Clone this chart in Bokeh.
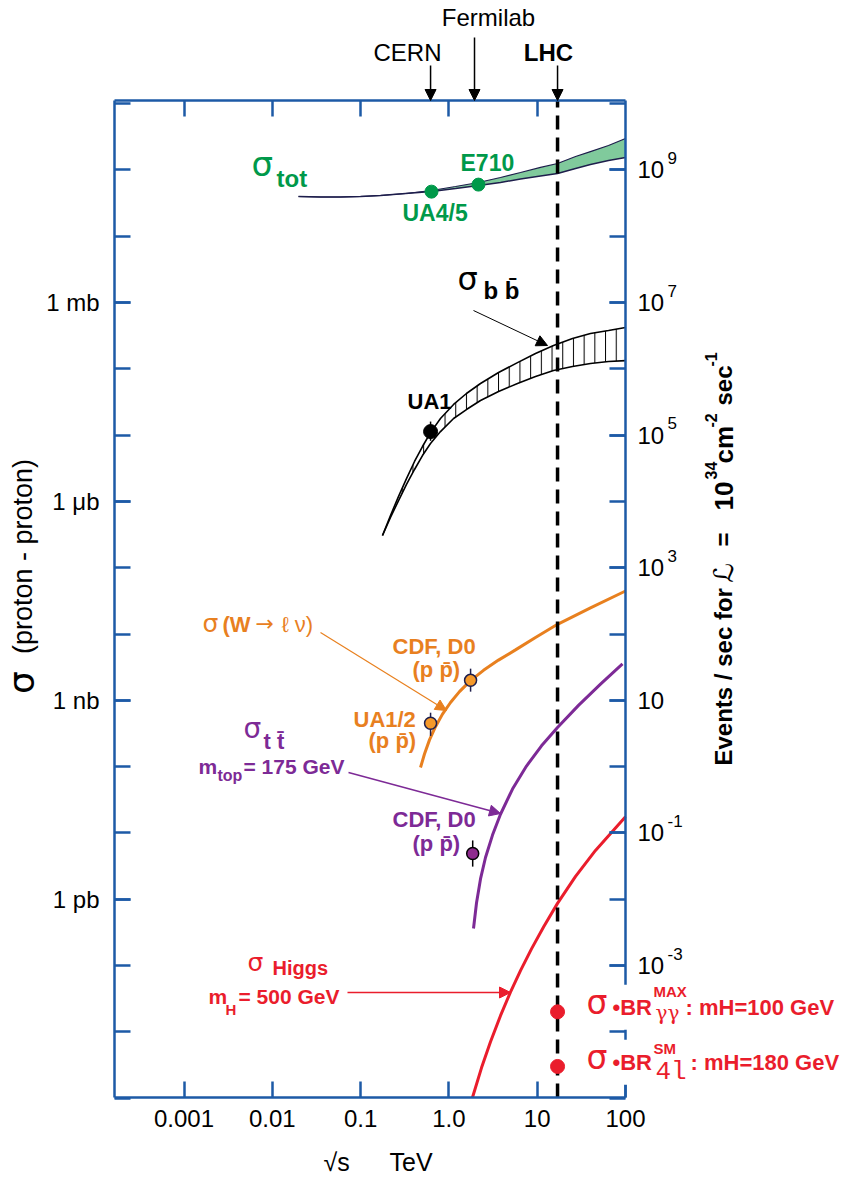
import math
from bokeh.plotting import figure
from bokeh.models import (Range1d, LogAxis, LogScale, FixedTicker, Label, Arrow,
                          NormalHead, CustomJSTickFormatter)
from bokeh.embed import file_html
from bokeh.resources import INLINE

# ---------------- data ----------------
# sqrt(s) in TeV, cross-sections in mb
energy_ticks = [0.001, 0.01, 0.1, 1.0, 10.0, 100.0]
energy_tick_labels = ["0.001", "0.01", "0.1", "1.0", "10", "100"]
xsec_ticks = [1.0, 1e-3, 1e-6, 1e-9]
xsec_tick_labels = ["1 mb", "1 μb", "1 nb", "1 pb"]
xsec_decades = [10.0 ** k for k in range(-12, 4)]
rate_label_exps = [9, 7, 5, 3, 1, -1, -3]
rate_decades = [10.0 ** k for k in range(-5, 11)]
rate_per_mb = 1e7  # events/s per mb for L = 1e34 cm^-2 s^-1

cern_e, fnal_e, lhc_e = 0.62, 1.95, 17.0

# total cross-section band
tot_e = [0.0198, 0.0352, 0.0592, 0.0997, 0.168, 0.323, 0.635, 1.19, 2.16, 3.84,
         6.47, 10.9, 17.0, 27.2, 40.1, 64.2, 100]
tot_lo = [39.7, 39.0, 39.0, 39.7, 41.1, 44.1, 47.2, 52.4, 58.2, 64.6,
          72.9, 80.9, 88.2, 105, 121, 139, 154]
tot_hi = [39.7, 39.0, 39.0, 39.7, 41.1, 44.1, 48.9, 56.2, 64.6, 76.8,
          91.4, 109, 125, 159, 189, 233, 298]
tot_pts_e = [0.635, 2.16]
tot_pts_s = [47, 60]

# b-bbar band
bb_e = [0.177, 0.218, 0.269, 0.331, 0.408, 0.502, 0.619, 0.803, 1.13, 1.58,
        2.28, 3.65, 5.98, 9.57, 15.3, 25.1, 40.1, 64.2, 100]
bb_hi = [3.06e-4, 6.13e-4, 1.19e-3, 2.21e-3, 4.00e-3, 6.73e-3, 1.09e-2, 1.78e-2,
         2.90e-2, 4.24e-2, 6.00e-2, 8.80e-2, 0.124, 0.170, 0.225, 0.286, 0.341,
         0.378, 0.420]
bb_lo = [3.06e-4, 5.72e-4, 1.03e-3, 1.80e-3, 3.03e-3, 4.92e-3, 7.47e-3, 1.13e-2,
         1.78e-2, 2.43e-2, 3.33e-2, 4.55e-2, 6.00e-2, 7.66e-2, 9.43e-2, 0.108,
         0.120, 0.129, 0.133]
ua1_e, ua1_s, ua1_lo, ua1_hi = [0.62], [0.0113], [0.0082], [0.016]

# W -> l nu
w_e = [0.477, 0.529, 0.603, 0.705, 0.846, 1.043, 1.318, 1.757, 2.465, 3.645,
       5.678, 9.565, 16.98, 40.14, 100]
w_s = [9.68e-8, 1.55e-7, 2.53e-7, 4.00e-7, 6.19e-7, 9.27e-7, 1.35e-6, 1.98e-6,
       2.83e-6, 4.04e-6, 5.76e-6, 8.85e-6, 1.40e-5, 2.48e-5, 4.45e-5]
w_pts_e = [0.62, 1.76]
w_pts_s = [4.5e-7, 2.0e-6]
w_pts_lo = [2.9e-7, 1.35e-6]
w_pts_hi = [6.5e-7, 3.0e-6]

# t-tbar
tt_e = [1.90, 2.054, 2.280, 2.597, 3.118, 3.84, 5.252, 7.564, 11.19, 16.98,
        29.36, 52.12, 92.47]
tt_s = [3.61e-10, 8.77e-10, 2.02e-9, 4.26e-9, 9.27e-9, 1.91e-8, 4.58e-8, 1.02e-7,
        2.06e-7, 3.90e-7, 8.38e-7, 1.75e-6, 3.54e-6]
tt_pts_e, tt_pts_s, tt_pts_lo, tt_pts_hi = [1.86], [4.9e-9], [3.1e-9], [7.7e-9]

# Higgs (mH = 500 GeV)
h_e = [1.849, 2.34, 2.96, 3.84, 4.98, 6.47, 8.62, 11.8, 16.98, 27.2, 45.73, 100]
h_s = [1.02e-12, 2.86e-12, 7.09e-12, 1.75e-11, 3.96e-11, 8.35e-11, 1.78e-10,
       3.82e-10, 8.65e-10, 2.21e-9, 5.45e-9, 1.75e-8]
br_pts_e = [lhc_e, lhc_e]
br_pts_s = [2.0e-11, 3.0e-12]

# ---------------- styling ----------------
BLUE = "#1d5aa6"
GREEN = "#00994a"
GREEN_FILL = "#80ca9c"
NAVY = "#1e1e4c"
ORANGE = "#e8801f"
ORANGE_DOT = "#f5992a"
PURPLE = "#7d2a96"
PURPLE_DOT = "#8e2b8e"
RED = "#ea1d2c"
FONT = "Liberation Sans"
SYM = "DejaVu Sans"

W, H = 842, 1181
FL, FR, FT, FB = 114, 625, 100, 1097          # box of the axes, in pixels
XDEC, YDEC, Y_MB_PX = 88.3, 66.3, 302.0


def xd(px):  # pixel column -> sqrt(s)
    return 10 ** (2 - (FR - px) / XDEC)


def yd(py):  # pixel row -> sigma (mb)
    return 10 ** ((Y_MB_PX - py) / YDEC)


X_LO, X_HI = xd(FL), xd(FR)
Y_LO, Y_HI = yd(FB), yd(FT)

p = figure(width=W, height=H, x_axis_type="log", y_axis_type="log",
           x_range=Range1d(xd(0), xd(W)), y_range=Range1d(yd(H), yd(0)),
           output_backend="svg", toolbar_location=None,
           min_border=0, min_border_left=0, min_border_right=0,
           min_border_top=0, min_border_bottom=0)
p.grid.visible = False
p.background_fill_color = "white"
p.border_fill_color = "white"
p.outline_line_color = None

p.extra_y_ranges = {"rate": Range1d(yd(H) * rate_per_mb, yd(0) * rate_per_mb)}
p.extra_y_scales = {"rate": LogScale()}

FMT_CODE = """
for (let i = 0; i < vals.length; i++) {
  if (Math.abs(Math.log10(tick) - Math.log10(vals[i])) < 1e-6) { return labs[i]; }
}
return "";
"""


def formatter(vals, labs):
    return CustomJSTickFormatter(args=dict(vals=list(vals), labs=list(labs)), code=FMT_CODE)


def style_axis(ax, standoff):
    ax.axis_line_color = BLUE
    ax.axis_line_width = 2.5
    ax.major_tick_line_color = BLUE
    ax.minor_tick_line_color = BLUE
    ax.major_tick_line_width = 2.5
    ax.minor_tick_line_width = 2.5
    ax.major_tick_in = 16
    ax.major_tick_out = 0
    ax.minor_tick_in = 16
    ax.minor_tick_out = 0
    ax.major_label_text_font = FONT
    ax.major_label_text_font_size = "24px"
    ax.major_label_text_color = "black"
    ax.major_label_standoff = standoff


bx = p.xaxis[0]
bx.ticker = FixedTicker(ticks=energy_ticks, minor_ticks=[])
bx.formatter = formatter(energy_ticks, energy_tick_labels)
bx.fixed_location = Y_LO
bx.bounds = (X_LO, X_HI)
style_axis(bx, 12)

ly = p.yaxis[0]
ly.ticker = FixedTicker(ticks=xsec_ticks, minor_ticks=xsec_decades)
ly.formatter = formatter(xsec_ticks, xsec_tick_labels)
ly.fixed_location = X_LO
ly.bounds = (Y_LO, Y_HI)
style_axis(ly, 15)

top = LogAxis(ticker=FixedTicker(ticks=energy_ticks[:-1], minor_ticks=[]),
              formatter=CustomJSTickFormatter(code="return '';"),
              fixed_location=Y_HI, bounds=(X_LO, X_HI))
style_axis(top, 2)
p.add_layout(top, "above")

rate_ticks = [10.0 ** e for e in rate_label_exps]
ry = LogAxis(y_range_name="rate",
             ticker=FixedTicker(ticks=rate_ticks, minor_ticks=rate_decades),
             formatter=formatter(rate_ticks, ["10"] * len(rate_ticks)),
             fixed_location=X_HI, bounds=(Y_LO * rate_per_mb, Y_HI * rate_per_mb))
style_axis(ry, 12)
p.add_layout(ry, "right")

BASE_SHIFT = 0.42  # em; compensates the renderer's alphabetic anchor


def lab(px, py, text, size, color="black", bold=False, align="left",
        baseline="alphabetic", font=FONT, angle=0.0, **extra):
    if baseline == "alphabetic":
        py = py - BASE_SHIFT * size
    p.add_layout(Label(x=xd(px), y=yd(py), text=text, text_font=font,
                       text_font_size=f"{size}px",
                       text_font_style="bold" if bold else "normal",
                       text_color=color, text_align=align,
                       text_baseline=baseline, angle=angle, **extra))


def arr(x0, y0, x1, y1, color, width=1.2, head=11):
    p.add_layout(Arrow(end=NormalHead(size=head, fill_color=color, line_color=color,
                                      line_width=1),
                       x_start=x0, y_start=y0, x_end=x1, y_end=y1,
                       line_color=color, line_width=width))


# superscripts of the right-hand tick labels
for e in rate_label_exps:
    if e == 1:
        continue
    p.add_layout(Label(x=xd(667), y=10.0 ** (e + 12 / YDEC), y_range_name="rate",
                       text=str(e), text_font=FONT, text_font_size="17px",
                       text_color="black", text_align="left", text_baseline="middle"))

# ---------------- curves ----------------
p.varea(x=tot_e, y1=tot_lo, y2=tot_hi, fill_color=GREEN_FILL)
p.line(tot_e, tot_lo, line_color=NAVY, line_width=1.5)
p.line(tot_e, tot_hi, line_color=NAVY, line_width=1.2)

p.varea(x=bb_e, y1=bb_lo, y2=bb_hi, fill_color="white", fill_alpha=0,
        hatch_pattern="vertical_line", hatch_color="black", hatch_weight=1,
        hatch_scale=10.7)
p.line(bb_e, bb_hi, line_color="black", line_width=1.6)
p.line(bb_e, bb_lo, line_color="black", line_width=1.6)

p.line(w_e, w_s, line_color=ORANGE, line_width=3)
p.line(tt_e, tt_s, line_color=PURPLE, line_width=3)
p.line(h_e, h_s, line_color=RED, line_width=3)

# LHC energy: dashed line across the whole plotting box
p.segment(x0=[lhc_e], y0=[Y_LO], x1=[lhc_e], y1=[Y_HI], line_color="black",
          line_width=3.5, line_dash="14 8")

# ---------------- points ----------------
p.scatter(tot_pts_e, tot_pts_s, size=13, fill_color=GREEN, line_color=GREEN)

p.segment(x0=ua1_e, y0=ua1_lo, x1=ua1_e, y1=ua1_hi, line_color="black", line_width=1.5)
p.scatter(ua1_e, ua1_s, size=14, fill_color="black", line_color="black")

p.segment(x0=w_pts_e, y0=w_pts_lo, x1=w_pts_e, y1=w_pts_hi, line_color=NAVY, line_width=1.5)
p.scatter(w_pts_e, w_pts_s, size=12, fill_color=ORANGE_DOT, line_color=NAVY, line_width=1.5)

p.segment(x0=tt_pts_e, y0=tt_pts_lo, x1=tt_pts_e, y1=tt_pts_hi, line_color="black", line_width=1.5)
p.scatter(tt_pts_e, tt_pts_s, size=12, fill_color=PURPLE_DOT, line_color="black", line_width=1.5)

p.scatter(br_pts_e, br_pts_s, size=14, fill_color=RED, line_color=RED)

# ---------------- annotations ----------------
# accelerators
lab(488, 27, "Fermilab", 24, align="center")
lab(407, 62, "CERN", 24, align="center")
lab(548, 62, "LHC", 24, bold=True, align="center")
arr(cern_e, yd(65), cern_e, Y_HI, "black", 1.5)
arr(fnal_e, yd(37), fnal_e, Y_HI, "black", 1.5)
arr(lhc_e, yd(65), lhc_e, Y_HI, "black", 1.5)

# axis titles
lab(21, 682, "σ", 36, align="center", baseline="middle", font=SYM, angle=math.pi / 2)
lab(22, 556, "(proton - proton)", 27, align="center", baseline="middle", angle=math.pi / 2)
lab(323, 1172, "√s", 25)
lab(389, 1172, "TeV", 25)

RX, RS = 723, 710
lab(RX, 765, "Events / sec for", 24, bold=True, baseline="middle", angle=math.pi / 2)
lab(RX, 582, "ℒ", 27, baseline="middle", font=SYM, angle=math.pi / 2)
lab(RX, 546, "=", 24, bold=True, baseline="middle", angle=math.pi / 2)
lab(RX, 510, "10", 26, bold=True, baseline="middle", angle=math.pi / 2)
lab(RS, 479, "34", 16, bold=True, baseline="middle", angle=math.pi / 2)
lab(RX, 463, "cm", 26, bold=True, baseline="middle", angle=math.pi / 2)
lab(RS, 427, "-2", 16, bold=True, baseline="middle", angle=math.pi / 2)
lab(RX, 405, "sec", 24, bold=True, baseline="middle", angle=math.pi / 2)
lab(RS, 366, "-1", 16, bold=True, baseline="middle", angle=math.pi / 2)

# sigma tot
lab(251, 178, "σ", 34, GREEN, font=SYM)
lab(276, 188, "tot", 24, GREEN, bold=True)
lab(460, 172, "E710", 23, GREEN, bold=True)
lab(402, 222, "UA4/5", 23, GREEN, bold=True)

# sigma b bbar
lab(457, 292, "σ", 32, font=SYM)
lab(483, 300, "b b\u0304", 24, bold=True)
arr(xd(473), yd(310), xd(547), yd(345), "black", 1.0)
lab(407, 410, "UA1", 22, bold=True)

# W
lab(202, 633, "σ", 25, ORANGE, font=SYM)
lab(222, 633, "(W", 22, ORANGE, bold=True)
lab(255, 632, "→", 22, ORANGE, font=SYM)
lab(281, 633, "ℓ ν)", 22, ORANGE)
arr(xd(320), yd(632), xd(446), yd(710), ORANGE, 1.2)
lab(392, 655, "CDF, D0", 22, ORANGE, bold=True)
lab(412, 678, "(p p\u0304)", 22, ORANGE, bold=True)
lab(353, 728, "UA1/2", 22, ORANGE, bold=True)
lab(368, 749, "(p p\u0304)", 22, ORANGE, bold=True)

# top
lab(243, 740, "σ", 28, PURPLE, font=SYM)
lab(263, 750, "t t\u0304", 22, PURPLE, bold=True)
lab(198, 775, "m", 21, PURPLE, bold=True)
lab(217, 782, "top", 16, PURPLE, bold=True)
lab(243, 775, "= 175 GeV", 21, PURPLE, bold=True)
arr(xd(348), yd(772), xd(500), yd(813), PURPLE, 1.5)
lab(392, 828, "CDF, D0", 22, PURPLE, bold=True)
lab(412, 852, "(p p\u0304)", 22, PURPLE, bold=True)

# Higgs
lab(247, 972, "σ", 25, RED, font=SYM)
lab(272, 976, "Higgs", 20, RED, bold=True)
lab(208, 1005, "m", 21, RED, bold=True)
lab(225, 1015, "H", 15, RED, bold=True)
lab(238, 1005, "= 500 GeV", 21, RED, bold=True)
arr(xd(347), yd(992), xd(510), yd(992), RED, 1.5)

# sigma x BR at the LHC (white boxes hide the frame behind them, as in the original)
PAD = 10
lab(612 - PAD, 1016, "•BR", 22, RED, bold=True, background_fill_color="white", padding=PAD)
lab(612 - PAD, 1071, "•BR", 22, RED, bold=True, background_fill_color="white", padding=PAD)
lab(586, 1016, "σ", 33, RED, font=SYM)
lab(653, 997, "MAX", 15, RED, bold=True)
lab(655, 1021, "γγ", 20, RED, font="DejaVu Serif")
lab(685, 1016, ": mH=100 GeV", 22, RED, bold=True)

lab(586, 1071, "σ", 33, RED, font=SYM)
lab(653, 1054, "SM", 15, RED, bold=True)
lab(655, 1082, "4l", 26, RED, font="Liberation Mono")
lab(690, 1071, ": mH=180 GeV", 22, RED, bold=True)

open("out.html", "w").write(file_html(p, INLINE))
